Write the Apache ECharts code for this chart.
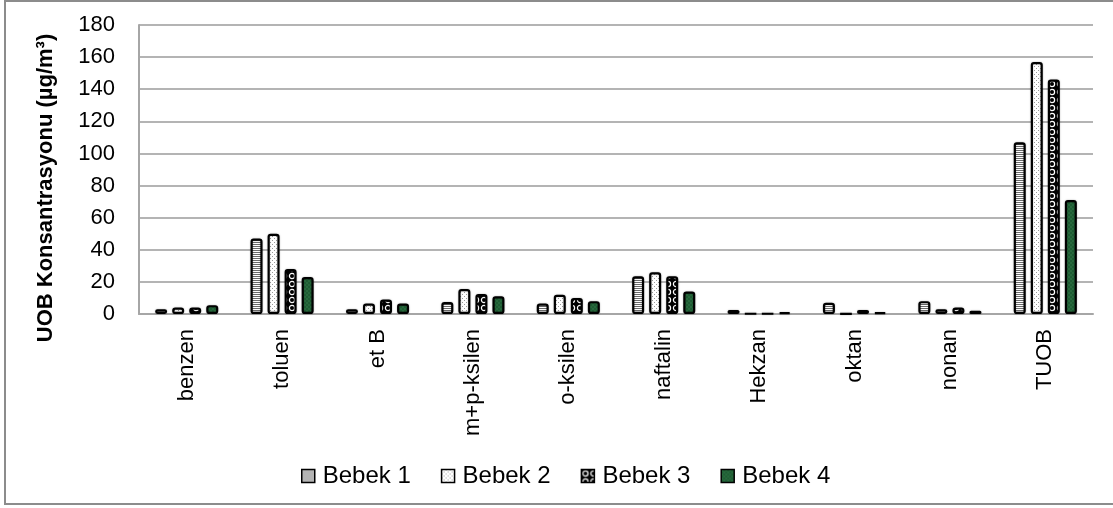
<!DOCTYPE html>
<html>
<head>
<meta charset="utf-8">
<script src="https://cdn.jsdelivr.net/npm/echarts@6/dist/echarts.min.js"></script>
<style>
html,body{margin:0;padding:0;background:#fff;}
#chart{width:1113px;height:508px;}
</style>
</head>
<body>
<div id="chart"></div>
<script>
const categories = ['benzen','toluen','et B','m+p-ksilen','o-ksilen','naftalin','Hekzan','oktan','nonan','TUOB'];
const seriesNames = ['Bebek 1','Bebek 2','Bebek 3','Bebek 4'];
const bebek1 = [3, 47, 3, 7.5, 6.5, 23.5, 2.5, 7, 8, 107];
const bebek2 = [4, 50, 6.5, 15.5, 12, 26, 0.3, 0.2, 3, 157];
const bebek3 = [4, 28, 9, 12.5, 10, 23.5, 0.3, 2.5, 4, 146];
const bebek4 = [5.5, 23, 6.5, 11, 8, 14, 1.2, 1, 2, 71];
const yTicks = [0,20,40,60,80,100,120,140,160,180];

function mk(w,h,draw){const c=document.createElement('canvas');c.width=w;c.height=h;const g=c.getContext('2d');draw(g);return c;}
const pat1 = mk(4,2,g=>{g.fillStyle='#fff';g.fillRect(0,0,4,2);g.fillStyle='#6a6a6a';g.fillRect(0,0,4,1);});
const pat2 = mk(4,4,g=>{g.fillStyle='#fff';g.fillRect(0,0,4,4);g.fillStyle='#9a9a9a';g.fillRect(0,0,1,1);g.fillRect(2,2,1,1);});
const pat3 = mk(8,8,g=>{g.fillStyle='#000';g.fillRect(0,0,8,8);g.strokeStyle='#fff';g.lineWidth=1.2;g.beginPath();g.arc(4,4,2.6,0,Math.PI*2);g.stroke();});
const pat4 = mk(4,4,g=>{g.fillStyle='#1f5c34';g.fillRect(0,0,4,4);g.fillStyle='#286a3d';g.fillRect(0,0,2,2);g.fillRect(2,2,2,2);});
const pats = [pat1,pat2,pat3,pat4];
const datas = [bebek1,bebek2,bebek3,bebek4];

const chart = echarts.init(document.getElementById('chart'), null, {renderer:'canvas'});
const font = 'Arial, "Liberation Sans", sans-serif';
chart.setOption({
  animation:false,
  textStyle:{fontFamily:font},
  graphic:[
    {type:'rect',shape:{x:5,y:1,width:1120,height:503},style:{fill:'none',stroke:'#8c8c8c',lineWidth:2},silent:true},
    {type:'text',x:46,y:188,rotation:Math.PI/2,style:{text:'UOB Konsantrasyonu (µg/m³)',font:'bold 22px Arial, "Liberation Sans", sans-serif',fill:'#000',align:'center',verticalAlign:'middle'}}
  ],
  grid:{left:139,right:20,top:25,bottom:194,containLabel:false},
  legend:{
    left:296, top:459, itemWidth:13, itemHeight:13, itemGap:30, icon:'rect',
    textStyle:{fontSize:24,color:'#000',fontFamily:font,padding:[0,0,0,3]},
    data:seriesNames,
    itemStyle:{borderWidth:1.5,borderColor:'#000'}
  },
  xAxis:{
    type:'category', data:categories,
    axisLine:{lineStyle:{color:'#a6a6a6',width:2}},
    axisTick:{show:false},
    axisLabel:{rotate:90,fontSize:22,color:'#000',margin:15,fontFamily:font,interval:0}
  },
  yAxis:{
    type:'value', min:0, max:180, interval:20,
    axisLine:{show:true,lineStyle:{color:'#a6a6a6',width:2}},
    axisTick:{show:false},
    splitLine:{lineStyle:{color:'#b4b4b4',width:2}},
    axisLabel:{fontSize:22,color:'#000',margin:24,fontFamily:font,
      formatter:v=>yTicks.includes(v)?String(v):''}
  },
  series: seriesNames.map((n,i)=>({
    name:n, type:'bar', data:datas[i],
    barWidth:12, barGap:'42%',
    itemStyle:{color:{image:pats[i],repeat:'repeat'},borderColor:'#000',borderWidth:2.2,borderRadius:2,
      shadowColor:'rgba(0,0,0,0.25)',shadowBlur:2}
  }))
});
</script>
</body>
</html>
